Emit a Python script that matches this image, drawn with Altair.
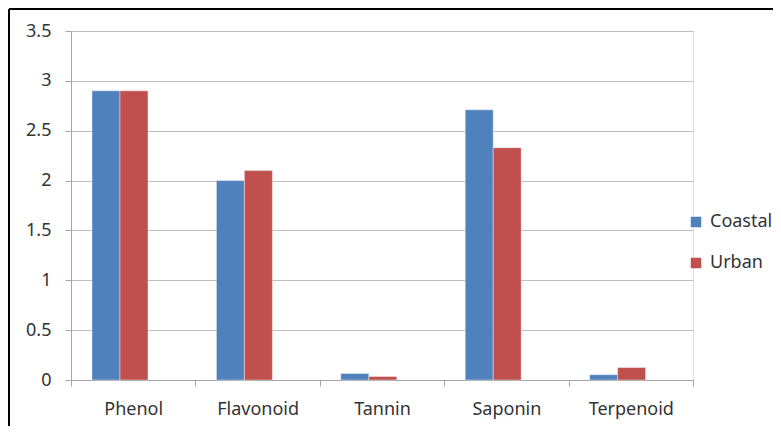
import altair as alt
import pandas as pd

categories = ["Phenol", "Flavonoid", "Tannin", "Saponin", "Terpenoid"]
coastal = [2.9, 2.0, 0.065, 2.71, 0.053]
urban = [2.9, 2.1, 0.035, 2.33, 0.125]
series = ["Coastal", "Urban"]
colors = ["#4F81BD", "#C0504D"]

rows = []
for c, a, b in zip(categories, coastal, urban):
    rows.append({"category": c, "series": "Coastal", "value": a})
    rows.append({"category": c, "series": "Urban", "value": b})
df = pd.DataFrame(rows)

FONT = "Noto Sans"
FS = 18
TXT = "#333333"

bars = alt.Chart(df).mark_bar(stroke="white", strokeWidth=0.4).encode(
    x=alt.X("category:N", sort=categories, title=None,
            scale=alt.Scale(paddingInner=0.55, paddingOuter=0.275, align=0.307),
            axis=None),
    xOffset=alt.XOffset("series:N", sort=series),
    y=alt.Y("value:Q", title=None,
            scale=alt.Scale(domain=[0, 3.5], nice=False),
            axis=alt.Axis(values=[0, 0.5, 1, 1.5, 2, 2.5, 3, 3.5],
                          labelExpr="datum.value == 0 ? '0' : format(datum.value, '.1~f')",
                          domainColor="#a6a6a6", tickColor="#a6a6a6", tickSize=6,
                          labelPadding=14, labelFontSize=FS, labelFont=FONT,
                          labelColor=TXT, gridColor="#bfbfbf", gridWidth=1.2)),
    color=alt.Color("series:N", sort=series,
                    scale=alt.Scale(domain=series, range=colors),
                    legend=alt.Legend(title=None, orient="none", legendX=616, legendY=182,
                                      symbolType="square", symbolSize=110,
                                      symbolStrokeWidth=0, labelFontSize=FS,
                                      labelFont=FONT, labelColor=TXT,
                                      rowPadding=23, labelOffset=5)),
)

axis_layer = alt.Chart(df).mark_point(opacity=0).encode(
    x=alt.X("category:N", sort=categories, title=None,
            scale=alt.Scale(paddingInner=0, paddingOuter=0),
            axis=alt.Axis(labelAngle=0, tickBand="extent", domainColor="#a6a6a6",
                          tickColor="#a6a6a6", tickSize=6, labelPadding=14,
                          labelFontSize=FS, labelFont=FONT, labelColor=TXT,
                          grid=False)),
    y=alt.value(0),
)

frame_top = alt.Chart(df).mark_rule(color="black", strokeWidth=2, clip=False).encode(
    x=alt.value(-62), x2=alt.value(712), y=alt.value(-22))
frame_left = alt.Chart(df).mark_rule(color="black", strokeWidth=2, clip=False).encode(
    x=alt.value(-62), y=alt.value(-22), y2=alt.value(430))

chart = alt.layer(bars, axis_layer, frame_top, frame_left).resolve_scale(
    x="independent"
).properties(
    width=622, height=349,
    autosize=alt.AutoSizeParams(type="none"),
    padding={"left": 63, "top": 23, "right": 80, "bottom": 46},
).configure_view(stroke=None).configure(background="white")

chart.save("out.html", embed_options={"renderer": "svg", "actions": False})
